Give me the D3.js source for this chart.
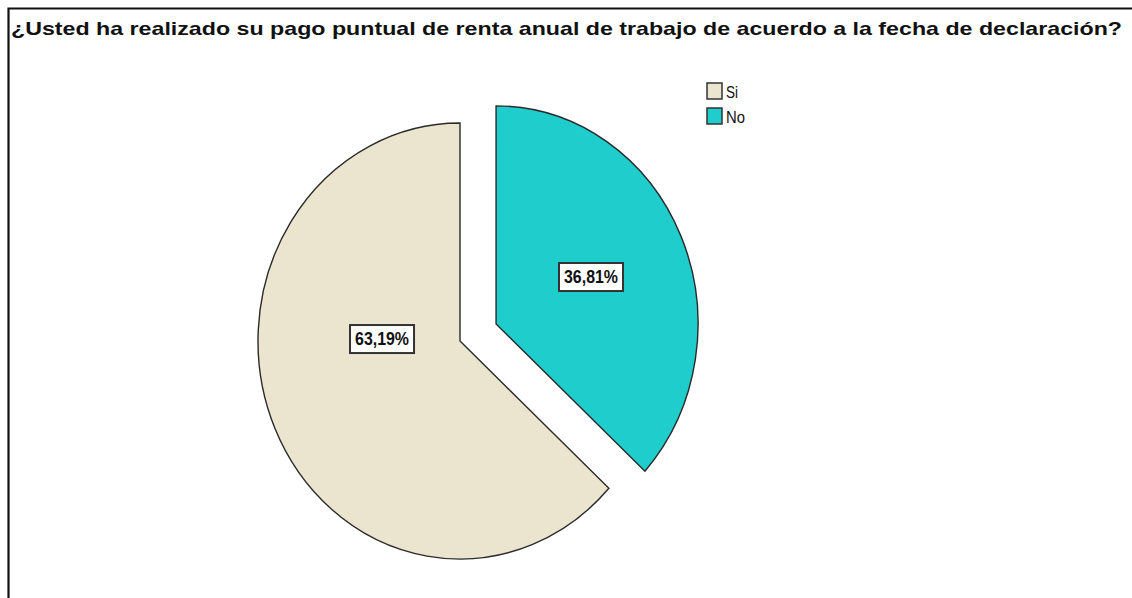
<!DOCTYPE html>
<html>
<head>
<meta charset="utf-8">
<script src="https://cdn.jsdelivr.net/npm/d3@7"></script>
<style>
  body { margin: 0; background: #fff; }
  svg { display: block; }
</style>
</head>
<body>
<div id="chart"></div>
<script>
// Data
const title = "¿Usted ha realizado su pago puntual de renta anual de trabajo de acuerdo a la fecha de declaración?"
const categories = ["No", "Si"]          // drawing order: No starts at 12 o'clock
const values = [36.81, 63.19]
const legendOrder = ["Si", "No"]
const colors = { Si: "#ebe5d0", No: "#1fcdcd" }
const exploded = { Si: false, No: true }

const width = 1132, height = 598

// pie centre of the un-exploded slice, radii (slightly elliptical like the original)
const cx = 460, cy = 341
const rx = 202, ry = 218
const explode = 0.195   // fraction of radius

const svg = d3.select('#chart').append('svg')
  .attr('width', width)
  .attr('height', height)

// frame (top + left only are visible)
svg.append('path')
  .attr('d', `M8.5,${height} L8.5,8.5 L${width},8.5`)
  .attr('fill', 'none')
  .attr('stroke', '#111')
  .attr('stroke-width', 2.2)

svg.append('text')
  .attr('x', 11)
  .attr('y', 35)
  .attr('textLength', 1111)
  .attr('lengthAdjust', 'spacingAndGlyphs')
  .style('font-family', 'Liberation Sans, Arial, sans-serif')
  .style('font-size', '19px')
  .style('font-weight', 'bold')
  .attr('fill', '#111')
  .text(title)

const data = categories.map((c, i) => ({ cat: c, value: values[i] }))

const pie = d3.pie().sort(null).value(d => d.value)
const arcs = pie(data)
const arc = d3.arc().innerRadius(0).outerRadius(ry)

const ctr = svg.append('g')
  .attr('transform', `translate(${cx},${cy})`)

const slices = ctr.selectAll('g.slice')
  .data(arcs)
  .join('g')
  .attr('class', 'slice')
  .attr('transform', d => {
    if (!exploded[d.data.cat]) return null
    const a = (d.startAngle + d.endAngle) / 2
    const dx = Math.sin(a) * explode * rx
    const dy = -Math.cos(a) * explode * ry
    return `translate(${dx},${dy})`
  })

slices.append('path')
  .attr('d', arc)
  .attr('transform', `scale(${rx / ry},1)`)
  .attr('fill', d => colors[d.data.cat])
  .attr('stroke', '#2a2a2a')
  .attr('stroke-width', 1.4)
  .attr('stroke-linejoin', 'miter')
  .attr('vector-effect', 'non-scaling-stroke')

// label anchors (relative to each slice centre, unit radius)
const labelPos = { No: [0.47, -0.215], Si: [-0.386, -0.009] }

const fmt = v => d3.format('.2f')(v).replace('.', ',') + '%'

slices.each(function(d) {
  const g = d3.select(this)
  const p = labelPos[d.data.cat]
  const lx = p[0] * rx, ly = p[1] * ry
  g.append('rect')
    .attr('x', lx - 32)
    .attr('y', ly - 14)
    .attr('width', 64)
    .attr('height', 28)
    .attr('fill', '#fff')
    .attr('stroke', '#333')
    .attr('stroke-width', 2)
  g.append('text')
    .attr('x', lx - 27)
    .attr('y', ly)
    .attr('dy', '0.36em')
    .attr('textLength', 54)
    .attr('lengthAdjust', 'spacingAndGlyphs')
    .style('font-family', 'Liberation Sans, Arial, sans-serif')
    .style('font-size', '17.5px')
    .style('font-weight', 'bold')
    .attr('fill', '#111')
    .text(fmt(d.data.value))
})

// legend
const legend = svg.append('g').attr('transform', 'translate(707,83)')
const li = legend.selectAll('g')
  .data(legendOrder)
  .join('g')
  .attr('transform', (d, i) => `translate(0,${i * 25})`)
li.append('rect')
  .attr('width', 15)
  .attr('height', 16)
  .attr('fill', d => colors[d])
  .attr('stroke', '#333')
  .attr('stroke-width', 1.5)
li.append('text')
  .attr('x', 19)
  .attr('y', 15)
  .attr('transform', 'scale(1,1)')
  .attr('textLength', d => d === 'Si' ? 12 : 19)
  .attr('lengthAdjust', 'spacingAndGlyphs')
  .style('font-family', 'Liberation Sans, Arial, sans-serif')
  .style('font-size', '17px')
  .attr('fill', '#111')
  .text(d => d)
</script>
</body>
</html>
